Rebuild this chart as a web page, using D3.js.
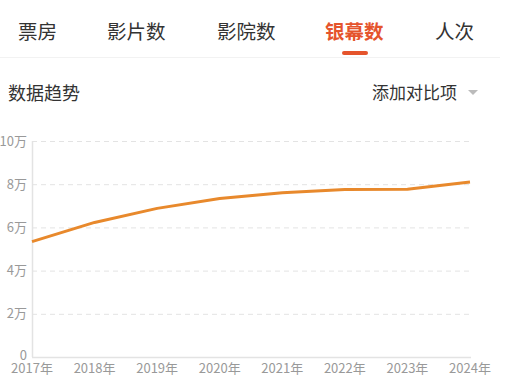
<!DOCTYPE html>
<html>
<head>
  <meta charset="utf-8">
  <script src="https://d3js.org/d3.v7.min.js"></script>
  <style>
    body {
      margin: 0;
      background: #fff;
      font-family: "Noto Sans CJK SC", "Noto Sans", sans-serif;
    }
  </style>
</head>
<body>
  <script type="text/javascript">
    // tab labels
    var tabs = ["票房", "影片数", "影院数", "银幕数", "人次"];
    var tabX = [18, 107, 217, 325, 435];
    var activeTab = 3;

    // chart data (screens)
    var years = ["2017年", "2018年", "2019年", "2020年", "2021年", "2022年", "2023年", "2024年"];
    var screens = [53400, 62300, 68800, 73400, 76000, 77600, 77700, 81000];
    var yTicks = [0, 20000, 40000, 60000, 80000, 100000];
    var yTickLabels = ["0", "2万", "4万", "6万", "8万", "10万"];

    var width = 511, height = 389;

    var svg = d3.select("body")
      .append("svg")
        .attr("width", width)
        .attr("height", height);

    //Tabs
    svg.selectAll("text.tab")
      .data(tabs)
      .enter()
      .append("text")
        .attr("class", "tab")
        .attr("x", function(d, i) { return tabX[i]; })
        .attr("y", 39)
        .style("font-size", "19.5px")
        .style("fill", function(d, i) { return i == activeTab ? "#e5542c" : "#333"; })
        .style("font-weight", function(d, i) { return i == activeTab ? "bold" : "normal"; })
        .text(function(d) { return d; });

    svg.append("line")
      .attr("x1", 344).attr("x2", 366)
      .attr("y1", 53).attr("y2", 53)
      .style("stroke", "#e5542c")
      .style("stroke-width", 4)
      .style("stroke-linecap", "round");

    svg.append("line")
      .attr("x1", 0).attr("x2", 500)
      .attr("y1", 57.5).attr("y2", 57.5)
      .style("stroke", "#f2f2f2")
      .style("stroke-width", 1);

    //Sub header
    svg.append("text")
      .attr("x", 8).attr("y", 100)
      .style("font-size", "18px")
      .style("fill", "#333")
      .text("数据趋势");

    svg.append("text")
      .attr("x", 372).attr("y", 99)
      .style("font-size", "17px")
      .style("fill", "#333")
      .text("添加对比项");

    svg.append("path")
      .attr("d", "M468,90 L478,90 L473,95 Z")
      .style("fill", "#bbb");

    //Chart
    var plotLeft = 32, plotRight = 470, plotTop = 141, plotBottom = 357;

    var x = d3.scalePoint()
      .domain(years)
      .range([plotLeft, plotRight]);

    var y = d3.scaleLinear()
      .domain([0, 100000])
      .range([plotBottom, plotTop]);

    // gridlines
    svg.selectAll("line.grid")
      .data(yTicks.slice(1))
      .enter()
      .append("line")
        .attr("class", "grid")
        .attr("x1", plotLeft).attr("x2", plotRight)
        .attr("y1", function(d) { return y(d) + 0.5; })
        .attr("y2", function(d) { return y(d) + 0.5; })
        .style("stroke", "#e3e3e3")
        .style("stroke-width", 1)
        .style("stroke-dasharray", "5,4");

    // axes lines
    svg.append("line")
      .attr("x1", plotLeft + 0.5).attr("x2", plotLeft + 0.5)
      .attr("y1", plotTop).attr("y2", plotBottom)
      .style("stroke", "#e3e3e3")
      .style("stroke-width", 1.5);

    svg.append("line")
      .attr("x1", plotLeft).attr("x2", plotRight + 1)
      .attr("y1", plotBottom + 0.5).attr("y2", plotBottom + 0.5)
      .style("stroke", "#e3e3e3")
      .style("stroke-width", 1.5);

    // y tick labels (the "0" sits a bit higher so it clears the year label)
    svg.selectAll("text.ylab")
      .data(yTicks)
      .enter()
      .append("text")
        .attr("class", "ylab")
        .attr("x", 27)
        .attr("y", function(d) { return d == 0 ? y(d) - 2 : y(d); })
        .attr("dy", "0.36em")
        .style("text-anchor", "end")
        .style("font-size", "13px")
        .style("fill", "#999")
        .text(function(d, i) { return yTickLabels[i]; });

    // x tick labels
    svg.selectAll("text.xlab")
      .data(years)
      .enter()
      .append("text")
        .attr("class", "xlab")
        .attr("x", function(d) { return x(d); })
        .attr("y", 373)
        .style("text-anchor", "middle")
        .style("font-size", "13px")
        .style("fill", "#999")
        .text(function(d) { return d; });

    // line
    var line = d3.line()
      .x(function(d, i) { return x(years[i]); })
      .y(function(d) { return y(d); });

    svg.append("path")
      .datum(screens)
      .attr("d", line)
      .style("fill", "none")
      .style("stroke", "#e8892c")
      .style("stroke-width", 3)
      .style("stroke-linejoin", "round");
  </script>
</body>
</html>
